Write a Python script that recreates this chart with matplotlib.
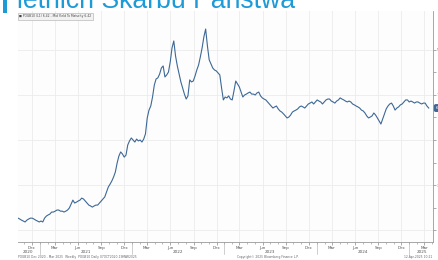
import matplotlib
matplotlib.use('Agg')
import matplotlib.pyplot as plt
import matplotlib.dates as mdates
from matplotlib.patches import Rectangle
import pandas as pd

# ---- data (weekly) ----
start_date = '2020-10-07'
yields = [
    1.53, 1.49, 1.44, 1.40, 1.36, 1.44, 1.49, 1.53, 1.53, 1.49,
    1.44, 1.40, 1.36, 1.40, 1.36, 1.53, 1.62, 1.67, 1.71, 1.80,
    1.80, 1.84, 1.89, 1.89, 1.84, 1.84, 1.80, 1.84, 1.89, 1.98,
    2.16, 2.33, 2.20, 2.24, 2.29, 2.33, 2.42, 2.38, 2.29, 2.20,
    2.11, 2.07, 2.02, 2.07, 2.11, 2.11, 2.20, 2.29, 2.38, 2.47,
    2.69, 2.91, 3.04, 3.18, 3.36, 3.58, 3.98, 4.29, 4.47, 4.38,
    4.24, 4.33, 4.78, 4.96, 5.09, 5.00, 4.91, 5.04, 4.96, 5.00,
    4.91, 5.04, 5.27, 5.98, 6.33, 6.51, 6.91, 7.44, 7.71, 7.76,
    7.93, 8.20, 8.29, 7.80, 7.89, 8.02, 8.47, 9.09, 9.40, 8.73,
    8.29, 7.93, 7.58, 7.31, 7.04, 6.82, 6.96, 7.67, 7.58, 7.62,
    7.84, 8.11, 8.33, 8.69, 9.09, 9.58, 9.93, 9.18, 8.56, 8.38,
    8.20, 8.11, 8.07, 7.98, 7.89, 7.31, 6.78, 6.91, 6.87, 6.96,
    6.82, 6.78, 7.18, 7.62, 7.49, 7.36, 7.13, 6.91, 7.00, 7.04,
    7.09, 7.13, 7.04, 7.04, 7.00, 7.09, 7.13, 6.96, 6.87, 6.82,
    6.78, 6.69, 6.60, 6.51, 6.42, 6.47, 6.51, 6.38, 6.29, 6.24,
    6.16, 6.07, 5.98, 6.02, 6.11, 6.24, 6.29, 6.33, 6.38, 6.47,
    6.51, 6.47, 6.42, 6.51, 6.60, 6.64, 6.69, 6.60, 6.69, 6.78,
    6.73, 6.69, 6.60, 6.69, 6.78, 6.82, 6.82, 6.73, 6.69, 6.64,
    6.73, 6.78, 6.87, 6.82, 6.78, 6.73, 6.69, 6.73, 6.69, 6.60,
    6.56, 6.51, 6.47, 6.42, 6.33, 6.29, 6.20, 6.07, 5.98, 6.02,
    6.07, 6.20, 6.11, 5.98, 5.84, 5.71, 5.93, 6.16, 6.38, 6.51,
    6.60, 6.64, 6.51, 6.33, 6.42, 6.47, 6.56, 6.60, 6.69, 6.78,
    6.78, 6.69, 6.73, 6.69, 6.64, 6.69, 6.69, 6.64, 6.60, 6.64,
    6.64, 6.51, 6.42,
]
dates = pd.date_range(start_date, periods=len(yields), freq='7D')

y_ticks = [1, 3, 5, 7, 9]
y_tick_labels = ['1.000', '3.000', '5.000', '7.000', '9.000']
year_labels = ['2020', '2021', '2022', '2023', '2024', '2025']
year_mid = ['2020-11-15', '2021-07-01', '2022-07-01', '2023-07-01', '2024-07-01', '2025-02-20']
year_bounds = ['2021-01-01', '2022-01-01', '2023-01-01', '2024-01-01', '2025-01-01']

title = 'letnich Skarbu Państwa'
legend_text = 'POGB10 (L1) 6.42 - Mid Yield To Maturity 6.42'
footer_left = 'POGB10 Dec 2020 - Mar 2025  Weekly  POGB10 Daily 07OCT2020-19MAR2025'
footer_mid = 'Copyright© 2025 Bloomberg Finance L.P.'
footer_right = '12-Apr-2025 10:21'

line_color = '#3d6896'
title_color = '#1e9bd7'

fig = plt.figure(figsize=(4.38, 2.6), dpi=100)
fig.patch.set_facecolor('white')

ax = fig.add_axes([18/438, 18/260, 415/438, 231/260])
ax.set_facecolor('#fdfdfd')
ax.plot(dates, yields, color=line_color, lw=0.8)

ax.set_xlim(pd.Timestamp('2020-10-07'), pd.Timestamp('2025-04-05'))
ax.set_ylim(0.47, 10.73)

# y axis on the right
ax.yaxis.tick_right()
ax.set_yticks(y_ticks)
ax.set_yticklabels(y_tick_labels, fontsize=3, color='#555555')
ax.set_yticks([2, 4, 6, 8], minor=True)
ax.tick_params(axis='y', which='both', length=2, width=0.5, color='#888888', pad=1)

# x axis
ax.xaxis.set_major_locator(mdates.MonthLocator(bymonth=[3, 6, 9, 12]))
ax.xaxis.set_major_formatter(mdates.DateFormatter('%b'))
ax.xaxis.set_minor_locator(mdates.MonthLocator())
ax.tick_params(axis='x', which='major', labelsize=3, labelcolor='#555555',
               length=2, width=0.5, color='#888888', pad=1)
ax.tick_params(axis='x', which='minor', length=1.2, width=0.4, color='#888888')

for lab, d in zip(year_labels, year_mid):
    ax.text(pd.Timestamp(d), -0.033, lab, transform=ax.get_xaxis_transform(),
            fontsize=3, color='#555555', ha='center', va='top')
for d in year_bounds:
    ax.plot([pd.Timestamp(d)] * 2, [0, -0.05], transform=ax.get_xaxis_transform(),
            color='#aaaaaa', lw=0.4, clip_on=False)

ax.grid(True, which='major', color='#ececec', lw=0.6)
for s in ['left', 'top']:
    ax.spines[s].set_visible(False)
for s in ['bottom', 'right']:
    ax.spines[s].set_color('#999999')
    ax.spines[s].set_linewidth(0.6)

# legend box
ax.text(0.003, 0.985, '\u25a0 ' + legend_text, transform=ax.transAxes,
        fontsize=2.2, color='#444444', ha='left', va='top',
        bbox=dict(boxstyle='square,pad=0.4', facecolor='#f2f2f2',
                  edgecolor='#aaaaaa', lw=0.4))

# last value marker
ax.annotate(f'{yields[-1]:.2f}', xy=(1.0, yields[-1]),
            xycoords=('axes fraction', 'data'), xytext=(2, 0),
            textcoords='offset points', fontsize=3, color='white',
            ha='left', va='center',
            bbox=dict(boxstyle='round,pad=0.3', facecolor=line_color,
                      edgecolor=line_color))

# title (cut off at the top) and accent bar
fig.text(17/438, 1 - 8/260, title, fontsize=19.2, color=title_color,
         family='Liberation Sans', ha='left', va='baseline')
fig.patches.append(Rectangle((3/438, 1 - 13/260), 4/438, 13/260,
                             transform=fig.transFigure, facecolor=title_color,
                             edgecolor='none'))

# footer
fig.text(18/438, 1/260, footer_left, fontsize=2.2, color='#666666', ha='left', va='bottom')
fig.text(268/438, 1/260, footer_mid, fontsize=2.2, color='#666666', ha='center', va='bottom')
fig.text(432/438, 1/260, footer_right, fontsize=2.2, color='#666666', ha='right', va='bottom')

fig.savefig('out.png', dpi=100, facecolor='white')
